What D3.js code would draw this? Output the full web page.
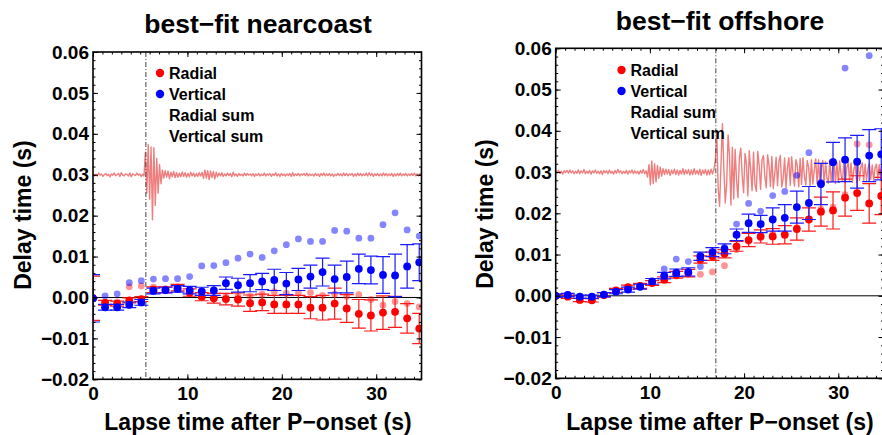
<!DOCTYPE html>
<meta charset="utf-8">
<script src="https://d3js.org/d3.v7.min.js"></script>
<style>
  body { margin: 0; background: #fff; }
  svg text { font-family: "Liberation Sans", Arial, sans-serif; font-weight: bold; fill: #000; }
</style>
<div id="chart"></div>
<script>

// lapse time of each window (s)
var lapse = [0, 1.28, 2.56, 3.84, 5.12, 6.40, 7.68, 8.96, 10.24, 11.52, 12.80, 14.08, 15.36, 16.64,
             17.92, 19.20, 20.48, 21.76, 23.04, 24.32, 25.60, 26.88, 28.16, 29.44, 30.72, 32.00, 33.28, 34.56];

// best-fit nearcoast
var nearRadial = [-0.0002, -0.0013, -0.0015, -0.0007, -0.0004, 0.0019, 0.0019, 0.0024, 0.0012, 0.0002, -0.0002, -0.0004, -0.0005, -0.0014,
                  -0.0012, -0.0017, -0.0017, -0.0017, -0.0025, -0.0025, -0.0015, -0.0027, -0.0040, -0.0044, -0.0037, -0.0035, -0.0051, -0.0076];
var nearRadialErr = [0.0054, 0.0006, 0.0006, 0.0006, 0.0006, 0.0007, 0.0007, 0.0008, 0.0009, 0.0010, 0.0012, 0.0014, 0.0016, 0.0020,
                     0.0020, 0.0022, 0.0022, 0.0022, 0.0027, 0.0030, 0.0038, 0.0034, 0.0035, 0.0038, 0.0041, 0.0038, 0.0036, 0.0037];
var nearVertical = [-0.0002, -0.0024, -0.0024, -0.0018, -0.0012, 0.0016, 0.0018, 0.0021, 0.0018, 0.0015, 0.0017, 0.0035, 0.0030, 0.0035,
                    0.0039, 0.0043, 0.0034, 0.0044, 0.0051, 0.0062, 0.0045, 0.0050, 0.0070, 0.0067, 0.0055, 0.0054, 0.0076, 0.0086];
var nearVerticalErr = [0.0058, 0.0007, 0.0007, 0.0007, 0.0007, 0.0007, 0.0007, 0.0008, 0.0009, 0.0010, 0.0012, 0.0015, 0.0017, 0.0021,
                       0.0020, 0.0026, 0.0027, 0.0027, 0.0028, 0.0034, 0.0034, 0.0039, 0.0036, 0.0034, 0.0045, 0.0052, 0.0053, 0.0045];
var nearRadialSum = [0.0000, -0.0012, -0.0011, 0.0026, 0.0028, 0.0025, 0.0021, 0.0022, 0.0009, 0.0003, -0.0001, 0.0003, 0.0004, 0.0003,
                     0.0008, 0.0014, 0.0010, 0.0011, 0.0012, 0.0005, 0.0008, 0.0003, 0.0007, -0.0005, -0.0019, -0.0010, -0.0015, -0.0023];
var nearVerticalSum = [0.0000, 0.0004, 0.0009, 0.0036, 0.0041, 0.0045, 0.0046, 0.0046, 0.0051, 0.0077, 0.0078, 0.0085, 0.0096, 0.0106,
                       0.0098, 0.0114, 0.0129, 0.0143, 0.0137, 0.0137, 0.0164, 0.0162, 0.0145, 0.0145, 0.0178, 0.0207, 0.0165, 0.0150];
var nearOnset = 5.6;

// best-fit offshore
var offRadial = [0.0000, -0.0002, -0.0010, -0.0011, 0.0002, 0.0013, 0.0021, 0.0024, 0.0031, 0.0039, 0.0051, 0.0055, 0.0088, 0.0096,
                 0.0102, 0.0120, 0.0135, 0.0144, 0.0144, 0.0148, 0.0162, 0.0185, 0.0204, 0.0207, 0.0238, 0.0249, 0.0224, 0.0242];
var offRadialErr = [0.0004, 0.0004, 0.0004, 0.0004, 0.0005, 0.0005, 0.0005, 0.0006, 0.0006, 0.0007, 0.0008, 0.0009, 0.0009, 0.0010,
                    0.0010, 0.0012, 0.0016, 0.0016, 0.0019, 0.0022, 0.0027, 0.0028, 0.0035, 0.0045, 0.0045, 0.0042, 0.0048, 0.0045];
var offVertical = [0.0000, 0.0002, -0.0002, -0.0002, 0.0003, 0.0010, 0.0015, 0.0022, 0.0035, 0.0049, 0.0056, 0.0058, 0.0096, 0.0106,
                   0.0114, 0.0148, 0.0176, 0.0174, 0.0185, 0.0189, 0.0215, 0.0225, 0.0271, 0.0324, 0.0330, 0.0325, 0.0340, 0.0343];
var offVerticalErr = [0.0004, 0.0004, 0.0004, 0.0004, 0.0005, 0.0005, 0.0006, 0.0006, 0.0007, 0.0008, 0.0009, 0.0010, 0.0010, 0.0011,
                      0.0012, 0.0014, 0.0022, 0.0021, 0.0028, 0.0032, 0.0039, 0.0040, 0.0050, 0.0048, 0.0053, 0.0064, 0.0063, 0.0062];
var offRadialSum = [0.0000, -0.0002, -0.0010, -0.0011, 0.0002, 0.0013, 0.0021, 0.0024, 0.0031, 0.0039, 0.0048, 0.0052, 0.0052, 0.0058,
                    0.0073, 0.0112, 0.0132, 0.0140, 0.0150, 0.0150, 0.0165, 0.0185, 0.0210, 0.0215, 0.0245, 0.0368, 0.0366, 0.0300];
var offVerticalSum = [0.0000, 0.0002, -0.0002, -0.0002, 0.0003, 0.0010, 0.0015, 0.0022, 0.0035, 0.0065, 0.0089, 0.0083, 0.0071, 0.0105,
                      0.0118, 0.0174, 0.0224, 0.0205, 0.0243, 0.0253, 0.0292, 0.0347, 0.0275, 0.0325, 0.0552, 0.0650, 0.0582, 0.0700];
var offOnset = 17.0;

// stacked seismogram traces drawn round 0.03 s, one sample every 0.15 s, in units of 1e-4 s
var waveBase = 0.03;
var waveStep = 0.15;
var nearWave = [2,-3,1,-3,4,-1,2,-4,0,3,-2,1,-5,2,-1,4,-2,0,3,-4,5,-1,-3,2,1,-3,4,-5,2,0,-2,4,-1,2,-4,1,-3,
  55,-45,74,-60,68,-110,66,-75,40,-45,25,-22,
  12,-8,10,-6,9,-10,6,-5,8,-7,5,-6,4,-5,7,-4,5,-6,3,-5,6,-3,4,-5,3,-4,5,-3,
  6,-9,11,-8,10,-12,9,-7,8,-10,6,-5,
  4,-3,5,-4,2,-3,4,-2,3,-5,6,-3,2,-4,3,-2,1,-3,4,-2,3,-1,2,-3,
  3,-4,2,-2,3,-3,1,-2,4,-3,2,-1,3,-4,2,-2,5,-3,2,-4,3,-2,1,-3,
  2,-2,3,-4,5,-3,2,-2,3,-3,2,-1,3,-2,4,-3,2,-2,1,-3,3,-2,2,-4,
  3,-2,4,-3,2,-2,3,-3,2,-4,1,-2,3,-2,2,-3,4,-2,3,-3,2,-1,3,-4,
  2,-3,4,-2,3,-3,2,-2,4,-3,5,-2,3,-4,2,-2,3,-3,2,-3,4,-2,3,-3,
  2,-2,3,-4,2,-3,3,-2,4,-3,2,-2,3,-3,2,-2,3,-2,4,-3,2,-3,3,-2];
var offWave = [3,-2,4,-3,2,-5,3,-1,4,-3,5,-2,3,-4,2,-3,5,-4,3,-2,6,-4,2,-3,4,-5,3,-2,5,-3,
  2,-4,3,-6,4,-2,3,-4,5,-3,2,-5,4,-3,6,-2,3,-4,2,-3,4,-5,3,-2,5,-4,3,-3,2,-5,
  4,-3,6,-4,3,
  -12,18,-31,27,-28,20,-24,16,-15,12,-10,8,
  -6,7,-5,6,-8,5,-4,7,-6,5,-7,4,-5,8,-6,5,-4,6,-7,5,-6,8,-5,4,-6,7,-8,5,-4,6,-7,5,-6,7,-5,6,
  30,95,-40,-83,20,117,10,-75,-30,90,40,-80,60,-65,
  55,-20,-62,35,58,-10,-50,45,20,-58,52,5,-45,48,-30,-47,50,15,-42,30,
  40,-10,-38,42,15,-35,38,-40,-5,36,-33,25,40,-36,-15,34,-38,10,35,-32,37,-5,-34,30,15,-36,33,
  -30,35,-10,-31,28,12,-33,30,-29,5,32,-28,30,-26,10,28,-30,25,-15,-27,29,-24,12,26,-28,23,
  -25,27,-8,-22,25,-26,10,24,-23,22,-25,5,21,-24,23,-20,12,22,-21,19,-20,8,22,-18,17,-20,10,19,-16,18,-19,15,-17];

// axes
var xTicks = [0, 10, 20, 30];
var yTicks = [-0.02, -0.01, 0.00, 0.01, 0.02, 0.03, 0.04, 0.05, 0.06];
var legendLabels = ["Radial", "Vertical", "Radial sum", "Vertical sum"];

var svg = d3.select("#chart")
  .append("svg")
    .attr("width", 882)
    .attr("height", 435);

var fmt = function(d) { return d3.format(".2f")(d).replace("-", "\u2212"); };

function drawPanel(p) {
  var x = d3.scaleLinear().domain([0, 34.8]).range([p.left, p.right]);
  var y = d3.scaleLinear().domain([-0.02, 0.06]).range([p.bottom, p.top]);

  var g = svg.append("g");

  // clip to the frame
  g.append("clipPath").attr("id", p.id + "clip")
    .append("rect")
      .attr("x", p.left).attr("y", p.top)
      .attr("width", p.right - p.left).attr("height", p.bottom - p.top);
  var plot = g.append("g").attr("clip-path", "url(#" + p.id + "clip)");

  // waveform
  var line = d3.line()
    .x(function(d, i) { return x(i * waveStep); })
    .y(function(d) { return y(waveBase + d * 1e-4); });
  plot.append("path")
    .datum(p.wave)
    .attr("d", line)
    .attr("fill", "none")
    .attr("stroke", "#ef7f7f")
    .attr("stroke-width", 1.4)
    .attr("stroke-linejoin", "round");

  // zero line
  plot.append("line")
    .attr("x1", x(0)).attr("x2", x(34.8))
    .attr("y1", y(0)).attr("y2", y(0))
    .attr("stroke", "#000").attr("stroke-width", 1);

  // P onset
  plot.append("line")
    .attr("x1", x(p.onset)).attr("x2", x(p.onset))
    .attr("y1", p.top).attr("y2", p.bottom)
    .attr("stroke", "#444").attr("stroke-width", 1)
    .attr("stroke-dasharray", "5,2,1,2");

  function dots(vals, color, r, op) {
    plot.append("g").selectAll("circle")
      .data(vals)
      .enter()
      .append("circle")
        .attr("cx", function(d, i) { return x(lapse[i]); })
        .attr("cy", function(d) { return y(d); })
        .attr("r", r)
        .attr("fill", color)
        .attr("fill-opacity", op);
  }

  function bars(vals, errs, color) {
    var eb = plot.append("g").attr("stroke", color).attr("stroke-width", 1.2);
    vals.forEach(function(v, i) {
      var cx = x(lapse[i]), lo = y(v - errs[i]), hi = y(v + errs[i]);
      eb.append("line").attr("x1", cx).attr("x2", cx).attr("y1", lo).attr("y2", hi);
      eb.append("line").attr("x1", cx - 7).attr("x2", cx + 7).attr("y1", lo).attr("y2", lo);
      eb.append("line").attr("x1", cx - 7).attr("x2", cx + 7).attr("y1", hi).attr("y2", hi);
    });
  }

  dots(p.radialSum, "#ff0000", 3.4, 0.42);
  dots(p.verticalSum, "#0000ff", 3.4, 0.48);
  bars(p.radial, p.radialErr, "#ff1a1a");
  dots(p.radial, "#ff0000", 3.9, 1);
  bars(p.vertical, p.verticalErr, "#1a1aff");
  dots(p.vertical, "#0000ff", 3.9, 1);

  // ticks on all four sides, pointing inward
  function styleAxis(sel, size) {
    sel.select(".domain").remove();
    sel.selectAll("line").attr("stroke", "#000").attr("stroke-width", 1);
    sel.selectAll("text").style("font-size", size + "px")
      .style("font-family", "'Liberation Sans', Arial, sans-serif").style("font-weight", "bold");
  }
  var yMinor = d3.range(-10, 31).map(function(k) { return k * 0.002; });
  var xMinor = d3.range(0, 35);

  g.append("g").attr("transform", "translate(" + p.left + ",0)")
    .call(d3.axisLeft(y).tickValues(yMinor).tickSize(-2.5).tickFormat(""))
    .call(styleAxis, 19);
  g.append("g").attr("transform", "translate(" + p.right + ",0)")
    .call(d3.axisRight(y).tickValues(yMinor).tickSize(-2.5).tickFormat(""))
    .call(styleAxis, 19);
  g.append("g").attr("transform", "translate(0," + p.bottom + ")")
    .call(d3.axisBottom(x).tickValues(xMinor).tickSize(-2.5).tickFormat(""))
    .call(styleAxis, 19);
  g.append("g").attr("transform", "translate(0," + p.top + ")")
    .call(d3.axisTop(x).tickValues(xMinor).tickSize(-2.5).tickFormat(""))
    .call(styleAxis, 19);

  g.append("g").attr("transform", "translate(" + p.left + ",0)")
    .call(d3.axisLeft(y).tickValues(yTicks).tickSizeInner(-5).tickSizeOuter(0).tickPadding(4).tickFormat(fmt))
    .call(styleAxis, 19);
  g.append("g").attr("transform", "translate(" + p.right + ",0)")
    .call(d3.axisRight(y).tickValues(yTicks).tickSizeInner(-5).tickSizeOuter(0).tickFormat(""))
    .call(styleAxis, 19);
  g.append("g").attr("transform", "translate(0," + p.bottom + ")")
    .call(d3.axisBottom(x).tickValues(xTicks).tickSizeInner(-5).tickSizeOuter(0).tickPadding(7).tickFormat(d3.format("d")))
    .call(styleAxis, 19);
  g.append("g").attr("transform", "translate(0," + p.top + ")")
    .call(d3.axisTop(x).tickValues(xTicks).tickSizeInner(-5).tickSizeOuter(0).tickFormat(""))
    .call(styleAxis, 19);

  // frame
  g.append("rect")
    .attr("x", p.left).attr("y", p.top)
    .attr("width", p.right - p.left).attr("height", p.bottom - p.top)
    .attr("fill", "none").attr("stroke", "#000").attr("stroke-width", 1.6);

  // titles
  g.append("text")
    .attr("x", p.titleX).attr("y", p.titleY)
    .attr("text-anchor", "middle")
    .style("font-size", "26.5px")
    .text(p.title);
  g.append("text")
    .attr("x", p.xlabX).attr("y", 430)
    .attr("text-anchor", "middle")
    .style("font-size", "23px")
    .text("Lapse time after P\u2212onset (s)");
  g.append("text")
    .attr("transform", "translate(" + p.ylabX + "," + p.ylabY + ") rotate(-90)")
    .attr("text-anchor", "middle")
    .style("font-size", "23px")
    .text("Delay time (s)");

  // legend
  var leg = g.append("g");
  legendLabels.forEach(function(name, i) {
    var cy = p.legY + i * 21;
    if (i < 2) {
      leg.append("circle")
        .attr("cx", p.legX).attr("cy", cy).attr("r", 4.2)
        .attr("fill", i === 0 ? "#ff0000" : "#0000ff");
    }
    leg.append("text")
      .attr("x", p.legX + 9).attr("y", cy)
      .attr("dy", "0.36em")
      .style("font-size", "16px")
      .text(name);
  });
}

drawPanel({
  id: "near", title: "best\u2212fit nearcoast",
  left: 93, right: 421.5, top: 52, bottom: 379.3,
  titleX: 258, titleY: 32.5, xlabX: 258, ylabX: 31, ylabY: 215,
  legX: 160, legY: 73,
  onset: nearOnset, wave: nearWave,
  radial: nearRadial, radialErr: nearRadialErr, vertical: nearVertical, verticalErr: nearVerticalErr,
  radialSum: nearRadialSum, verticalSum: nearVerticalSum
});

drawPanel({
  id: "off", title: "best\u2212fit offshore",
  left: 555.7, right: 883.5, top: 48.3, bottom: 378.3,
  titleX: 720, titleY: 29.5, xlabX: 720, ylabX: 492.5, ylabY: 214,
  legX: 621.5, legY: 70,
  onset: offOnset, wave: offWave,
  radial: offRadial, radialErr: offRadialErr, vertical: offVertical, verticalErr: offVerticalErr,
  radialSum: offRadialSum, verticalSum: offVerticalSum
});

</script>
